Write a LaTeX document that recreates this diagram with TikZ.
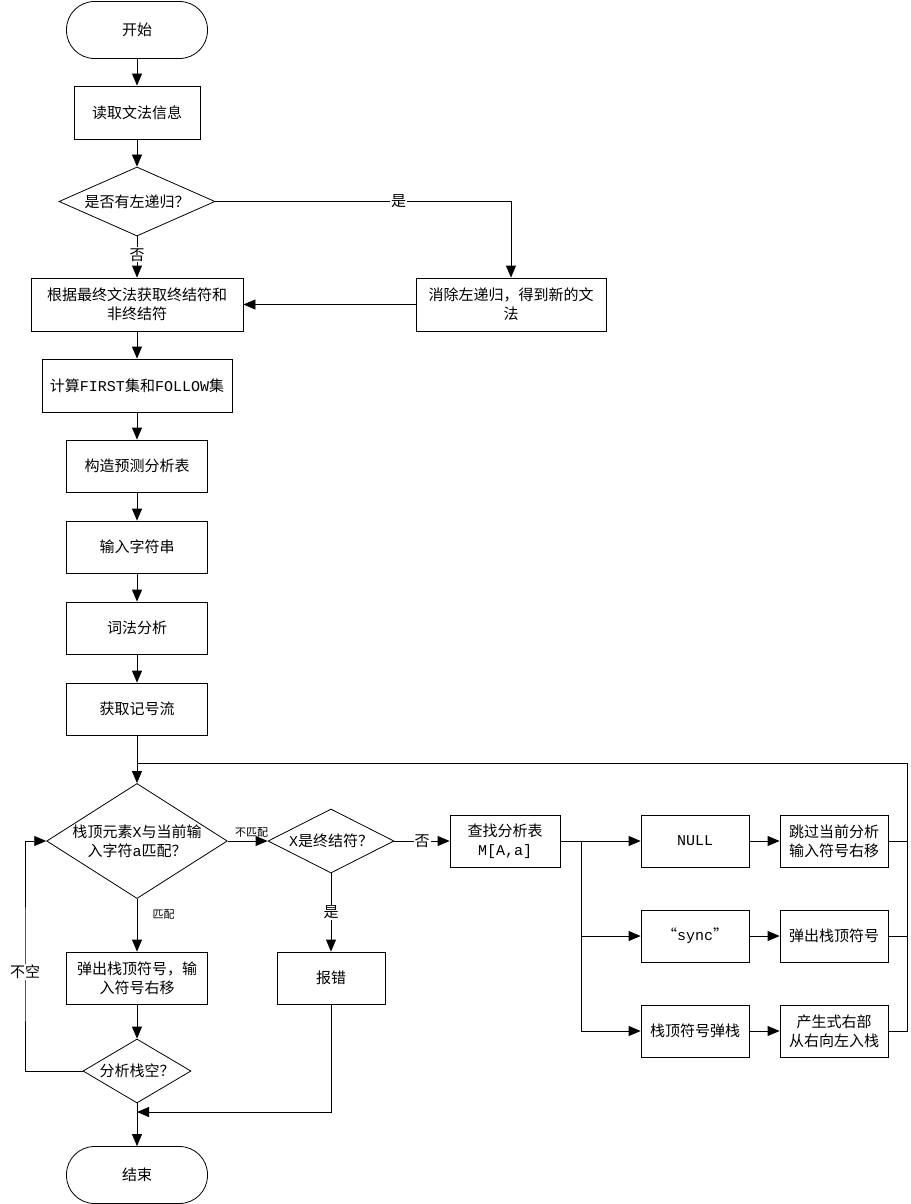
\documentclass[tikz,border=0pt]{standalone}
\usepackage{fontspec}
\setmainfont{Noto Sans CJK SC}
\newfontfamily\mono{Liberation Mono}
\usetikzlibrary{shapes.geometric,arrows.meta}

\begin{document}
\begin{tikzpicture}[x=1pt,y=-1pt,line width=0.8pt,
        font=\fontsize{15}{19}\selectfont,
        caja/.style={draw,rectangle,minimum width=141pt,minimum height=52pt,align=center,inner sep=2pt},
        extremo/.style={draw,rectangle,rounded corners=28pt,minimum width=141pt,minimum height=57pt},
        rombo/.style={draw,diamond,inner sep=0pt,align=center},
        flecha/.style={-{Triangle[length=12pt,width=10pt]}},
        etiqueta/.style={fill=white,inner sep=1pt},
        pequena/.style={font=\fontsize{11}{13}\selectfont}]
        \useasboundingbox (0,0) rectangle (910,1204);

        % Preparacion de la gramatica
        \node[extremo] (inicio) at (137,30) {开始};
        \node[caja,minimum width=126pt,minimum height=53pt] (leer) at (137,112.5) {读取文法信息};
        \node[rombo,aspect=2.26,minimum width=156pt,minimum height=69pt] (recursion) at (137,201.5) {是否有左递归？};
        \node[caja,minimum width=212pt,minimum height=53pt] (simbolos) at (137,304.5) {根据最终文法获取终结符和\\非终结符};
        \node[caja,minimum width=190pt,minimum height=53pt] (eliminar) at (511,304.5) {消除左递归，得到新的文\\法};
        \node[caja,minimum width=190pt,minimum height=53pt] (conjuntos) at (137,385.5) {计算{\mono FIRST}集和{\mono FOLLOW}集};
        \node[caja] (tabla) at (137,466) {构造预测分析表};
        \node[caja] (entrada) at (137,547) {输入字符串};
        \node[caja] (lexico) at (137,628) {词法分析};
        \node[caja] (tokens) at (137,709) {获取记号流};

        % Bucle de analisis
        \node[rombo,aspect=1.57,minimum width=176pt,minimum height=112pt] (coincide) at (137,841) {栈顶元素{\mono X}与当前输\\入字符{\mono a}匹配？};
        \node[rombo,aspect=1.97,minimum width=126pt,minimum height=64pt] (esterminal) at (331,841) {{\mono X}是终结符？};
        \node[caja] (sacar) at (137,978) {弹出栈顶符号，输\\入符号右移};
        \node[caja,minimum width=108pt] (error) at (331,978) {报错};
        \node[rombo,aspect=1.69,minimum width=108pt,minimum height=64pt] (vacia) at (137,1071) {分析栈空？};
        \node[extremo] (fin) at (137,1175) {结束};

        % Recuperacion de errores
        \node[caja,minimum width=110pt] (buscar) at (505,841) {查找分析表\\{\mono M[A,a]}};
        \node[caja,minimum width=108pt] (nulo) at (695,841) {{\mono NULL}};
        \node[caja,minimum width=108pt] (sync) at (695,936) {“{\mono sync}”};
        \node[caja,minimum width=108pt] (pila) at (695,1031) {栈顶符号弹栈};
        \node[caja,minimum width=108pt] (saltar) at (834,841) {跳过当前分析\\输入符号右移};
        \node[caja,minimum width=108pt] (expulsar) at (834,936) {弹出栈顶符号};
        \node[caja,minimum width=108pt] (producir) at (834,1031) {产生式右部\\从右向左入栈};

        \coordinate (retorno) at (137,763);
        \coordinate (esquina) at (907,763);
        \coordinate (rama) at (581,841);
        \coordinate (izq) at (25,972);
        \coordinate (union) at (137,1112);

        % Flechas
        \draw[flecha] (inicio) -- (leer);
        \draw[flecha] (leer) -- (recursion);
        \draw[flecha] (recursion) -- node[etiqueta,pos=0.45] {否} (simbolos);
        \draw[flecha] (recursion.east) -| node[etiqueta,pos=0.31] {是} (eliminar.north);
        \draw[flecha] (eliminar) -- (simbolos);
        \draw[flecha] (simbolos) -- (conjuntos);
        \draw[flecha] (conjuntos) -- (tabla);
        \draw[flecha] (tabla) -- (entrada);
        \draw[flecha] (entrada) -- (lexico);
        \draw[flecha] (lexico) -- (tokens);
        \draw[flecha] (tokens) -- (coincide);

        \draw[flecha] (coincide.east) -- node[pequena,above,xshift=4pt] {不匹配} (esterminal.west);
        \draw[flecha] (esterminal.east) -- node[etiqueta] {否} (buscar.west);
        \draw[flecha] (esterminal.south) -- node[etiqueta] {是} (error.north);
        \draw[flecha] (coincide.south) -- node[pequena,right,xshift=12pt,pos=0.3] {匹配} (sacar.north);
        \draw[flecha] (sacar) -- (vacia);
        \draw[flecha] (vacia.west) -| (izq) node[etiqueta] {不空} |- (coincide.west);
        \draw[flecha] (error.south) |- (union);
        \draw[flecha] (vacia) -- (fin);

        \draw (buscar.east) -- (rama);
        \draw[flecha] (rama) -- (nulo.west);
        \draw[flecha] (rama) |- (sync.west);
        \draw[flecha] (rama) |- (pila.west);
        \draw[flecha] (nulo) -- (saltar);
        \draw[flecha] (sync) -- (expulsar);
        \draw[flecha] (pila) -- (producir);
        \draw (saltar.east) -- (saltar.east -| esquina);
        \draw (expulsar.east) -- (expulsar.east -| esquina);
        \draw (producir.east) -| (esquina) -- (retorno);
    \end{tikzpicture}
\end{document}
